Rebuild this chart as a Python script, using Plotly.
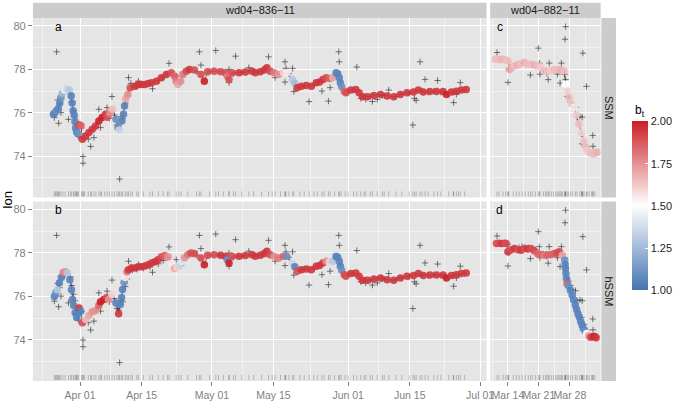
import pandas as pd
import plotly.graph_objects as go

# ---------------- DATA ----------------
# Track wd04-836-11 (days since 2011-04-01)
ssm1_head_days = [-6.07, -5.73, -5.40, -4.95, -4.61, -4.34, -4.05, -3.60, -3.26, -3.04, -2.47, -2.02, -1.80, -1.57,
                  -1.35, -1.17, -1.01, -0.79, -0.56, -0.22, 0.22, 0.52, 1.28, 2.02, 2.77, 3.53, 4.27, 5.01, 5.78,
                  6.14, 6.52, 6.90, 7.42, 8.16, 8.61, 8.93, 9.51, 9.89, 10.12, 10.41, 10.86, 11.40, 12.53, 13.27,
                  14.02, 14.77, 15.50, 16.26, 17.38, 18.51, 19.63, 20.76, 21.52, 21.88, 22.26, 22.87, 23.39, 24.13,
                  24.89]
ssm1_head_lon = [75.93, 76.00, 76.10, 76.20, 76.45, 76.70, 76.90, 77.05, 77.08, 77.10, 77.05, 76.77, 76.45, 76.10,
                 75.90, 75.60, 75.30, 75.12, 75.05, 75.45, 75.40, 74.78, 74.93, 75.09, 75.24, 75.39, 75.62, 75.78,
                 75.93, 75.80, 75.93, 76.00, 76.16, 75.70, 75.32, 75.21, 75.62, 75.93, 76.31, 76.65, 76.85, 77.16,
                 77.23, 77.31, 77.30, 77.31, 77.35, 77.39, 77.46, 77.62, 77.77, 77.85, 77.69, 77.46, 77.31, 77.46,
                 77.77, 77.92, 78.00]
ssm1_head_bt = [1.05, 1.05, 1.10, 1.05, 1.05, 1.10, 1.25, 1.40, 1.48, 1.35, 1.30, 1.05, 1.05, 1.05, 1.05, 1.05,
                1.05, 1.05, 1.10, 1.90, 1.85, 1.95, 1.95, 1.95, 1.95, 1.95, 2.00, 2.00, 1.95, 1.90, 1.85, 1.75,
                1.65, 1.10, 1.10, 1.35, 1.05, 1.05, 1.05, 1.70, 1.75, 1.90, 1.95, 1.95, 1.95, 1.95, 1.95, 1.95,
                1.95, 1.95, 1.95, 1.90, 1.85, 1.80, 1.70, 1.75, 1.80, 1.90, 1.95]

hssm1_head_days = [-5.85, -5.51, -5.17, -4.72, -4.27, -3.82, -3.37, -2.86, -2.32, -1.96, -1.73, -1.46, -1.12, -0.79,
                   -0.45, -0.22, 0.16, 0.52, 1.28, 2.02, 2.77, 3.53, 4.27, 4.65, 5.40, 6.07, 6.52, 7.26, 8.16, 8.77,
                   9.15, 9.44, 9.67, 10.01, 10.28, 10.68, 11.02, 11.76, 12.53, 13.27, 14.01, 14.77, 15.52, 16.26,
                   17.02, 17.76, 18.51, 19.27, 20.01, 20.91, 21.52, 22.04, 22.64, 23.16, 23.77, 24.51, 25.25]
hssm1_head_lon = [76.00, 76.18, 76.31, 76.62, 76.87, 77.10, 77.14, 77.08, 76.77, 76.31, 75.86, 75.58, 75.25, 75.03,
                  75.21, 75.47, 75.32, 74.79, 74.94, 75.12, 75.29, 75.35, 75.58, 75.75, 75.86, 75.95, 75.86, 76.09,
                  75.70, 75.20, 75.63, 75.95, 76.32, 76.64, 76.87, 77.14, 77.23, 77.31, 77.31, 77.37, 77.37, 77.40,
                  77.46, 77.54, 77.60, 77.69, 77.83, 77.88, 77.83, 77.51, 77.28, 77.33, 77.46, 77.60, 77.78, 77.92,
                  78.00]
hssm1_head_bt = [1.05, 1.10, 1.30, 1.05, 1.05, 1.80, 1.75, 1.30, 1.05, 1.05, 1.05, 1.05, 1.05, 1.05, 1.05, 1.95,
                 1.05, 1.90, 1.65, 1.70, 1.75, 1.75, 1.85, 2.00, 2.00, 1.90, 1.75, 1.60, 1.05, 1.95, 1.05, 1.05,
                 1.05, 1.10, 1.55, 1.80, 1.95, 1.95, 1.95, 1.95, 1.95, 1.95, 1.95, 1.95, 1.95, 1.95, 1.90, 1.85,
                 1.75, 1.55, 1.70, 1.60, 1.35, 1.40, 1.75, 1.80, 1.90]

track1_tail_days = [26.02, 27.50, 28.27, 29.01, 30.51, 32.00, 33.12, 33.50, 33.89, 34.63, 36.14, 37.62, 39.13, 39.87,
                    40.99, 41.89, 42.50, 43.24, 44.14, 45.13, 46.26, 47.00, 48.35, 48.86, 49.40, 50.37, 51.50,
                    52.62, 53.74, 54.49, 55.25, 55.99, 56.74, 57.50, 58.24, 58.62, 58.98, 59.21, 59.52, 60.11,
                    60.49, 61.61, 62.74, 63.48, 64.25, 65.37, 66.86, 68.36, 69.87, 71.35, 72.86, 74.36, 75.85,
                    76.97, 78.10, 79.60, 81.11, 82.59, 83.36, 84.48, 85.61, 86.73, 87.86]
track1_tail_lon = [77.97, 77.77, 77.46, 77.89, 77.92, 77.89, 77.85, 77.69, 77.54, 77.85, 77.85, 77.88, 77.92, 77.85,
                   77.89, 77.97, 78.08, 77.92, 77.85, 77.77, 77.85, 77.85, 77.54, 77.36, 77.16, 77.23, 77.26,
                   77.23, 77.39, 77.42, 77.54, 77.62, 77.58, 77.62, 77.85, 77.80, 77.62, 77.39, 77.20, 77.00,
                   76.93, 77.05, 77.08, 76.93, 76.74, 76.74, 76.80, 76.85, 76.77, 76.74, 76.85, 76.93, 76.96,
                   77.05, 76.96, 76.98, 76.98, 76.98, 76.85, 76.96, 77.00, 77.05, 77.08]
ssm1_tail_bt = [1.90, 1.90, 2.00, 1.90, 1.90, 1.90, 1.90, 1.80, 1.90, 1.90, 1.95, 1.95, 1.95, 1.95, 1.95, 1.95,
                1.95, 1.90, 1.80, 1.75, 1.60, 1.55, 1.30, 1.25, 1.95, 1.95, 1.95, 1.95, 1.95, 1.95, 1.95, 1.90,
                1.85, 1.70, 1.05, 1.05, 1.05, 1.05, 1.10, 1.85, 1.90, 1.95, 1.95, 1.95, 1.95, 1.95, 1.95, 1.95,
                1.95, 1.95, 1.95, 1.95, 1.95, 1.95, 1.95, 1.95, 1.95, 1.95, 2.00, 1.95, 1.95, 1.95, 1.95]
hssm1_tail_bt = [1.90, 1.90, 2.00, 1.90, 1.90, 1.95, 1.95, 1.10, 2.00, 1.90, 1.95, 1.95, 1.95, 1.95, 1.95, 1.95,
                 1.95, 1.90, 1.75, 1.80, 1.85, 1.10, 1.35, 1.05, 1.90, 1.95, 1.95, 1.95, 1.95, 1.95, 1.95, 1.75,
                 1.60, 1.30, 1.05, 1.05, 1.05, 1.05, 1.10, 1.90, 1.90, 1.95, 1.95, 1.95, 1.95, 1.95, 1.95, 1.95,
                 1.95, 1.95, 1.95, 1.95, 1.95, 1.95, 1.95, 1.95, 1.95, 1.95, 2.00, 1.95, 1.95, 1.95, 1.95]

obs1_days = [-5.33, -5.10, -5.85, -4.88, -4.34, -2.63, -0.83, -0.38, 0.67, 0.67, 1.87, 2.41, 3.15, 4.27, 4.65, 6.14,
             6.68, 7.26, 9.00, 8.77, 9.38, 11.02, 11.54, 13.27, 16.48, 20.24, 21.88, 23.00, 27.14, 27.50, 30.87,
             35.37, 33.89, 33.89, 38.39, 42.88, 44.37, 46.62, 46.84, 46.62, 48.35, 48.64, 52.10, 55.03, 56.51,
             56.89, 58.85, 58.98, 62.96, 63.86, 64.99, 66.50, 67.62, 70.23, 75.71, 76.07, 76.46, 77.36, 78.48,
             81.34, 85.00, 86.51, 85.61]
obs1_lon = [78.81, 76.59, 75.78, 75.52, 76.01, 75.70, 75.21, 74.91, 73.99, 73.68, 74.79, 74.45, 74.86, 76.16, 75.32,
            76.24, 75.75, 76.75, 72.95, 75.37, 75.83, 77.62, 77.36, 77.46, 77.11, 78.28, 77.69, 77.42, 78.81, 78.20,
            78.87, 78.61, 78.00, 77.39, 78.08, 78.58, 77.62, 78.35, 78.05, 77.42, 78.05, 76.98, 76.52, 77.00, 76.54,
            77.16, 78.81, 78.35, 78.11, 76.67, 76.62, 76.52, 76.62, 77.05, 75.44, 76.67, 76.58, 78.35, 77.54, 77.49,
            76.47, 77.39, 76.85]
# observations lying under the estimated track (visible mainly in the rug)
obs1_days_ontrack = [-5.6, -4.7, -3.9, -3.4, -2.2, -1.9, -1.5, -1.2, -0.9, -0.6, 0.3, 1.0, 2.6, 3.6, 4.9, 5.6, 7.8,
                     8.4, 9.7, 10.3, 10.7, 11.9, 12.9, 14.4, 15.9, 17.8, 18.9, 19.9, 22.5, 24.5, 26.5, 29.5, 31.5,
                     32.6, 34.9, 36.8, 39.5, 41.3, 43.7, 45.6, 47.5, 50.0, 51.0, 53.2, 54.0, 55.5, 57.9, 59.4,
                     60.3, 61.0, 62.2, 64.6, 66.0, 68.8, 69.2, 71.9, 73.2, 74.9, 77.8, 79.2, 80.5, 82.1, 83.9,
                     84.9, 86.1, 87.5]
obs1_lon_ontrack = [76.05, 76.4, 76.95, 77.0, 76.9, 76.5, 76.1, 75.8, 75.2, 75.0, 75.3, 74.85, 75.2, 75.35, 75.75,
                    75.9, 75.9, 75.45, 75.75, 76.45, 76.8, 77.2, 77.25, 77.3, 77.35, 77.5, 77.65, 77.8, 77.35,
                    77.95, 77.9, 77.9, 77.9, 77.85, 77.8, 77.85, 77.9, 77.9, 77.9, 77.8, 77.8, 77.2, 77.25, 77.3,
                    77.4, 77.55, 77.7, 77.3, 77.0, 77.0, 77.05, 76.75, 76.75, 76.8, 76.8, 76.75, 76.85, 76.9,
                    77.0, 76.95, 77.0, 76.95, 76.9, 76.95, 77.0, 77.05]

# Track wd04-882-11 (day of March 2011)
ssm2_days = [11.16, 11.65, 12.21, 12.77, 13.33, 14.00, 14.38, 14.89, 15.50, 16.12, 16.79, 17.73, 18.36, 19.21,
             19.92, 20.70, 21.37, 22.20, 22.94, 23.67, 24.39, 25.17, 25.95, 26.67, 27.03, 27.40, 27.78, 28.30,
             28.90, 29.42, 30.02, 30.53, 31.14, 31.54, 31.87, 32.54, 33.37, 34.11]
ssm2_lon = [78.47, 78.47, 78.45, 78.47, 78.45, 78.40, 78.00, 78.10, 78.17, 78.20, 78.25, 78.32, 78.25, 78.24, 78.22,
            78.17, 78.10, 77.94, 77.92, 77.94, 77.98, 78.00, 77.98, 77.94, 77.32, 77.00, 76.71, 76.45, 76.25, 75.90,
            75.49, 75.10, 74.72, 74.45, 74.26, 74.15, 74.10, 74.18]
ssm2_bt = [1.65, 1.65, 1.65, 1.68, 1.65, 1.65, 1.70, 1.68, 1.65, 1.68, 1.65, 1.68, 1.65, 1.65, 1.68, 1.65, 1.62,
           1.65, 1.65, 1.62, 1.65, 1.65, 1.68, 1.65, 1.50, 1.60, 1.65, 1.62, 1.55, 1.62, 1.65, 1.60, 1.62, 1.65,
           1.62, 1.65, 1.65, 1.68]

hssm2_days = [11.39, 11.99, 12.66, 13.33, 13.62, 14.00, 14.67, 15.50, 16.23, 16.97, 17.73, 18.47, 19.21, 19.92,
              20.70, 21.48, 22.20, 22.94, 23.67, 24.43, 25.06, 25.55, 26.29, 26.80, 26.90, 27.00, 27.10, 27.20,
              27.35, 27.60, 28.10, 28.50, 28.80, 29.20, 29.50, 29.80, 30.10, 30.40, 30.70, 31.00, 31.40, 31.80,
              32.20, 32.60, 33.10, 33.60, 33.90]
hssm2_lon = [78.43, 78.45, 78.43, 78.45, 78.43, 78.05, 78.15, 78.20, 78.15, 78.12, 78.20, 78.18, 78.20, 78.10,
             77.97, 77.93, 77.90, 77.92, 77.92, 77.97, 78.00, 78.05, 77.90, 77.66, 77.45, 77.28, 77.05, 76.82,
             76.59, 76.50, 76.28, 76.05, 75.85, 75.60, 75.40, 75.20, 75.05, 74.85, 74.70, 74.52, 74.40, 74.29,
             74.20, 74.12, 74.14, 74.15, 74.10]
hssm2_bt = [1.90, 1.90, 1.95, 1.90, 1.90, 1.95, 1.90, 1.95, 1.90, 1.95, 1.90, 1.95, 1.90, 1.90, 1.85, 1.85, 1.80,
            1.85, 1.85, 1.85, 1.90, 1.90, 1.70, 1.10, 1.05, 1.05, 1.05, 1.05, 1.85, 1.10, 1.05, 1.05, 1.05, 1.05,
            1.05, 1.05, 1.05, 1.05, 1.05, 1.05, 1.10, 1.50, 1.70, 1.90, 1.95, 2.00, 1.95]

obs2_days = [11.54, 14.00, 14.16, 14.00, 19.07, 20.86, 21.08, 21.22, 22.78, 23.09, 23.32, 25.17, 26.06, 25.77,
             26.80, 27.02, 27.02, 26.89, 27.40, 29.26, 30.24, 30.76, 30.91, 31.72, 30.60, 30.76, 33.15, 33.21, 31.87]
obs2_lon = [78.78, 78.40, 78.01, 77.40, 77.74, 78.98, 78.29, 77.78, 77.83, 77.53, 78.29, 77.78, 78.29, 77.37, 77.78,
            77.53, 79.97, 79.39, 76.76, 76.26, 75.84, 75.80, 78.75, 77.22, 75.03, 74.57, 74.96, 74.46, 74.42]
obs2_days_ontrack = [12.0, 12.9, 13.5, 15.2, 15.9, 16.5, 17.2, 17.9, 18.6, 19.5, 20.2, 22.0, 22.5, 23.8, 24.3, 24.8,
                     25.5, 26.3, 27.7, 28.1, 28.6, 29.6, 31.2, 32.3, 32.9, 33.6]
obs2_lon_ontrack = [78.45, 78.45, 78.45, 78.15, 78.2, 78.25, 78.3, 78.25, 78.25, 78.2, 78.15, 77.95, 77.92, 77.95,
                    77.97, 78.0, 78.0, 77.95, 76.7, 76.5, 76.3, 75.8, 74.7, 74.2, 74.15, 74.15]

track_names = ["wd04\u2212836\u221211", "wd04\u2212882\u221211"]
model_names = ["SSM", "hSSM"]
panel_letters = ["a", "c", "b", "d"]

x1_ticks = ["2011-04-01", "2011-04-15", "2011-05-01", "2011-05-15", "2011-06-01", "2011-06-15", "2011-07-01"]
x1_ticktext = ["Apr 01", "Apr 15", "May 01", "May 15", "Jun 01", "Jun 15", "Jul 01"]
x1_minor = ["2011-03-23 12:00", "2011-04-08", "2011-04-23", "2011-05-08", "2011-05-23 12:00", "2011-06-08",
            "2011-06-23"]
x2_ticks = ["2011-03-14", "2011-03-21", "2011-03-28"]
x2_ticktext = ["Mar 14", "Mar 21", "Mar 28"]
x2_minor = ["2011-03-10 12:00", "2011-03-17 12:00", "2011-03-24 12:00", "2011-03-31 12:00"]
y_ticks = [74, 76, 78, 80]
y_minor = [73, 75, 77, 79]
bt_ticks = [1.0, 1.25, 1.5, 1.75, 2.0]
bt_ticktext = ["1.00", "1.25", "1.50", "1.75", "2.00"]

# ---------------- helpers ----------------
def fmt(ts):
    return ts.round("s").strftime("%Y-%m-%d %H:%M:%S")

def t1(days):
    o = pd.Timestamp("2011-04-01")
    return [fmt(o + pd.Timedelta(days=d)) for d in days]

def t2(days):
    o = pd.Timestamp("2011-03-01")
    return [fmt(o + pd.Timedelta(days=d - 1)) for d in days]

for a, b in [(ssm1_head_days, ssm1_head_lon), (ssm1_head_days, ssm1_head_bt), (hssm1_head_days, hssm1_head_lon),
             (hssm1_head_days, hssm1_head_bt), (track1_tail_days, track1_tail_lon), (track1_tail_days, ssm1_tail_bt),
             (track1_tail_days, hssm1_tail_bt), (obs1_days, obs1_lon), (obs1_days_ontrack, obs1_lon_ontrack),
             (ssm2_days, ssm2_lon), (ssm2_days, ssm2_bt), (hssm2_days, hssm2_lon), (hssm2_days, hssm2_bt),
             (obs2_days, obs2_lon), (obs2_days_ontrack, obs2_lon_ontrack)]:
    assert len(a) == len(b), (len(a), len(b))

W, H = 685, 401
def px(p): return p / W
def py(p): return 1 - p / H

GREY50 = "#7F7F7F"
FONT = "Liberation Sans, Arial, sans-serif"

panels = [
    ("x", "y", t1(ssm1_head_days + track1_tail_days), ssm1_head_lon + track1_tail_lon,
     ssm1_head_bt + ssm1_tail_bt, t1(obs1_days + obs1_days_ontrack), obs1_lon + obs1_lon_ontrack),
    ("x2", "y2", t2(ssm2_days), ssm2_lon, ssm2_bt, t2(obs2_days + obs2_days_ontrack), obs2_lon + obs2_lon_ontrack),
    ("x3", "y3", t1(hssm1_head_days + track1_tail_days), hssm1_head_lon + track1_tail_lon,
     hssm1_head_bt + hssm1_tail_bt, t1(obs1_days + obs1_days_ontrack), obs1_lon + obs1_lon_ontrack),
    ("x4", "y4", t2(hssm2_days), hssm2_lon, hssm2_bt, t2(obs2_days + obs2_days_ontrack), obs2_lon + obs2_lon_ontrack),
]

fig = go.Figure()
shapes = []
for xa, ya, t, lon, bt, ot, olon in panels:
    fig.add_trace(go.Scatter(x=ot, y=olon, mode="markers", xaxis=xa, yaxis=ya, showlegend=False, hoverinfo="skip",
                             marker=dict(symbol="cross-thin", size=4.5,
                                         line=dict(width=0.9, color="rgba(55,55,55,0.75)"))))
    fig.add_trace(go.Scatter(x=t, y=lon, mode="lines", xaxis=xa, yaxis=ya, showlegend=False, hoverinfo="skip",
                             line=dict(color="rgba(0,0,0,0.85)", width=0.6)))
    fig.add_trace(go.Scatter(x=t, y=lon, mode="markers", xaxis=xa, yaxis=ya, showlegend=False,
                             marker=dict(size=7.5, color=bt, coloraxis="coloraxis", opacity=0.9,
                                         line=dict(width=0))))
    for tt in ot:
        shapes.append(dict(type="line", xref=xa, yref=ya + " domain", x0=tt, x1=tt, y0=0.006, y1=0.034,
                           line=dict(color="rgba(0,0,0,0.28)", width=0.8), layer="above"))

# geometry (pixels)
XL = (33.3, 492.3)
XR = (496.0, 607.7)
YT = (18.0, 198.0)
YB = (202.0, 382.0)
x1_range = ["2011-03-21 06:30", "2011-07-02 11:30"]
x2_range = ["2011-03-10 00:00", "2011-04-03 22:00"]
y_range = [72.10, 80.37]

def xaxis(dom, rng, ticks, ticktext, minor, anchor, labels):
    return dict(domain=[px(dom[0]), px(dom[1])], anchor=anchor, type="date", range=rng,
                tickmode="array", tickvals=ticks, ticktext=ticktext, showticklabels=labels, tickangle=0,
                ticks="outside" if labels else "", ticklen=4, tickwidth=1, tickcolor=GREY50,
                tickfont=dict(size=10.5, color=GREY50, family=FONT),
                showgrid=True, gridcolor="white", gridwidth=1.1, zeroline=False, showline=False,
                minor=dict(tickmode="array", tickvals=minor, showgrid=True, gridcolor="#F2F2F2",
                           gridwidth=0.55, ticks=""))

def yaxis(dom, anchor, labels):
    return dict(domain=[py(dom[1]), py(dom[0])], anchor=anchor, range=y_range,
                tickmode="array", tickvals=y_ticks, ticktext=[str(v) for v in y_ticks],
                showticklabels=labels, ticks="outside" if labels else "", ticklen=4, tickwidth=1,
                tickcolor=GREY50, tickfont=dict(size=11, color=GREY50, family=FONT),
                showgrid=True, gridcolor="white", gridwidth=1.1, zeroline=False, showline=False,
                minor=dict(tickmode="array", tickvals=y_minor, showgrid=True, gridcolor="#F2F2F2",
                           gridwidth=0.55, ticks=""))

STRIP = "#CCCCCC"
annotations = []
for (x0, x1), name in zip([XL, XR], track_names):
    shapes.append(dict(type="rect", xref="paper", yref="paper", x0=px(x0), x1=px(x1), y0=py(18.0), y1=py(2.7),
                       fillcolor=STRIP, line=dict(width=0), layer="below"))
    annotations.append(dict(text=name, xref="paper", yref="paper", x=px((x0 + x1) / 2), y=py(10.5),
                            showarrow=False, font=dict(size=11, color="#1A1A1A", family=FONT),
                            xanchor="center", yanchor="middle"))
for (y0, y1), name in zip([YT, YB], model_names):
    shapes.append(dict(type="rect", xref="paper", yref="paper", x0=px(608.5), x1=px(623.3), y0=py(y1), y1=py(y0),
                       fillcolor=STRIP, line=dict(width=0), layer="below"))
    annotations.append(dict(text=name, xref="paper", yref="paper", x=px(616), y=py((y0 + y1) / 2),
                            showarrow=False, textangle=90, font=dict(size=11, color="#1A1A1A", family=FONT),
                            xanchor="center", yanchor="middle"))
for letter, (xp, yp) in zip(panel_letters, [(59, 27.5), (505.5, 27.5), (59, 210.5), (505.5, 210.5)]):
    annotations.append(dict(text=letter, xref="paper", yref="paper", x=px(xp), y=py(yp), showarrow=False,
                            font=dict(size=12, color="black", family=FONT), xanchor="center", yanchor="middle"))
annotations.append(dict(text="lon", xref="paper", yref="paper", x=px(8), y=py(200), showarrow=False, textangle=-90,
                        font=dict(size=13, color="black", family=FONT), xanchor="center", yanchor="middle"))
annotations.append(dict(text="b<sub>t</sub>", xref="paper", yref="paper", x=px(640), y=py(111), showarrow=False,
                        font=dict(size=12, color="black", family=FONT), xanchor="left", yanchor="middle"))

fig.update_layout(
    width=W, height=H, margin=dict(l=0, r=0, t=0, b=0),
    paper_bgcolor="white", plot_bgcolor="#E5E5E5",
    font=dict(family=FONT),
    xaxis=xaxis(XL, x1_range, x1_ticks, x1_ticktext, x1_minor, "y", False),
    xaxis2=xaxis(XR, x2_range, x2_ticks, x2_ticktext, x2_minor, "y2", False),
    xaxis3=xaxis(XL, x1_range, x1_ticks, x1_ticktext, x1_minor, "y3", True),
    xaxis4=xaxis(XR, x2_range, x2_ticks, x2_ticktext, x2_minor, "y4", True),
    yaxis=yaxis(YT, "x", True),
    yaxis2=yaxis(YT, "x2", False),
    yaxis3=yaxis(YB, "x3", True),
    yaxis4=yaxis(YB, "x4", False),
    coloraxis=dict(cmin=1, cmax=2,
                   colorscale=[[0, "#4575b4"], [0.5, "#ffffff"], [1, "#ca2027"]],
                   colorbar=dict(x=px(639), xanchor="left", y=py(206.5), yanchor="middle",
                                 len=169 / H, lenmode="fraction", thickness=16, thicknessmode="pixels",
                                 outlinewidth=0, tickmode="array", tickvals=bt_ticks, ticktext=bt_ticktext,
                                 ticks="inside", ticklen=3, tickcolor="white",
                                 tickfont=dict(size=11, color="#222222", family=FONT),
                                 xpad=0, ypad=0)),
    shapes=shapes, annotations=annotations,
)

# remove the browser's default page margin so the 685x401 figure fills the window exactly
fig.write_html("out.html", config={"displayModeBar": False},
               post_script="document.body.style.margin='0';document.body.style.overflow='hidden';")
